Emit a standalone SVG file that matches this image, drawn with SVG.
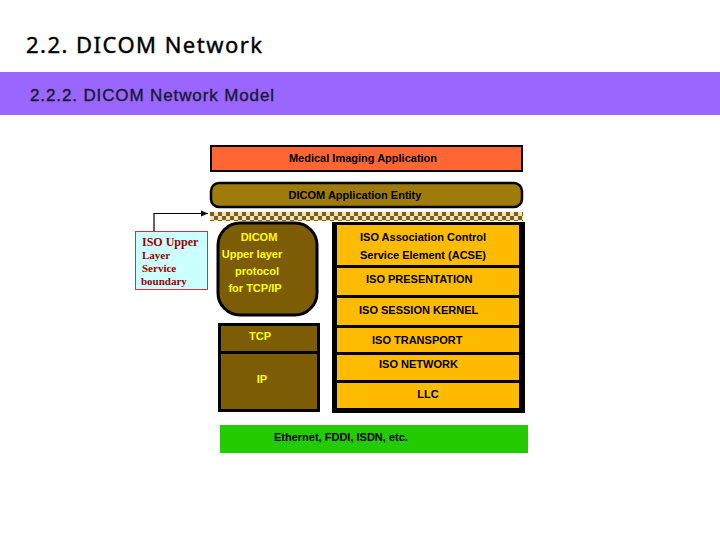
<svg xmlns="http://www.w3.org/2000/svg" width="720" height="540" viewBox="0 0 720 540">
<defs>
<pattern id="chk" x="210" y="212" width="8" height="8" patternUnits="userSpaceOnUse">
<rect width="8" height="8" fill="#ece2c4"/>
<rect width="4" height="4" fill="#806010"/>
<rect x="4" y="4" width="4" height="4" fill="#806010"/>
</pattern>
<marker id="arr" markerWidth="8" markerHeight="8" refX="7" refY="4" orient="auto" markerUnits="userSpaceOnUse">
<path d="M0,1 L7,4 L0,7 Z" fill="#000"/>
</marker>
<style>
.t{font-family:"Liberation Sans",Arial,sans-serif;font-weight:bold;font-size:11px;fill:#000}
.y{font-family:"Liberation Sans",Arial,sans-serif;font-weight:bold;font-size:11px;fill:#ffff00}
.r{font-family:"Liberation Serif","Times New Roman",serif;font-weight:bold;fill:#990000}
.lay{fill:#ffbb00}
</style>
</defs>
<rect width="720" height="540" fill="#fff"/>
<text x="26" y="53" font-family="'Noto Sans',sans-serif" font-size="22" fill="#000" stroke="#000" stroke-width="0.4" textLength="236" lengthAdjust="spacing">2.2. DICOM Network</text>
<rect x="0" y="72" width="720" height="43" fill="#9966ff"/>
<text x="30" y="101" font-family="'Liberation Sans',Arial,sans-serif" font-size="17" fill="#1a1a33" stroke="#1a1a33" stroke-width="0.4" textLength="244" lengthAdjust="spacing">2.2.2. DICOM Network Model</text>

<g id="medical">
<rect x="211" y="146" width="311" height="25" fill="#ff6633" stroke="#000" stroke-width="2"/>
<text class="t" x="363" y="162" text-anchor="middle">Medical Imaging Application</text>
</g>
<g id="ae">
<rect x="211" y="183" width="311" height="24" rx="8" fill="#9e7b0b" stroke="#000" stroke-width="2.5"/>
<text class="t" x="355" y="199" text-anchor="middle">DICOM Application Entity</text>
</g>
<g id="boundary-band">
<rect x="210" y="212" width="313" height="9" fill="url(#chk)"/>
</g>
<g id="iso-upper">
<rect x="135.5" y="231.5" width="72" height="58" fill="#ccffff" stroke="#cc3344" stroke-width="1"/>
<text class="r" x="142" y="246" font-size="12">ISO Upper</text>
<text class="r" x="142" y="259" font-size="11">Layer</text>
<text class="r" x="142" y="272" font-size="11">Service</text>
<text class="r" x="141" y="285" font-size="11">boundary</text>
</g>
<g id="dicom-ul">
<rect x="218" y="223" width="99" height="92" rx="22" fill="#7d5c06" stroke="#000" stroke-width="3"/>
<text class="y" x="259" y="241" text-anchor="middle">DICOM</text>
<text class="y" x="252" y="258" text-anchor="middle">Upper layer</text>
<text class="y" x="257" y="275" text-anchor="middle">protocol</text>
<text class="y" x="255" y="292" text-anchor="middle">for TCP/IP</text>
</g>
<g id="tcpip">
<rect x="219.5" y="324.5" width="99" height="86" fill="#7d5c06" stroke="#000" stroke-width="3"/>
<line x1="219" y1="352.5" x2="319" y2="352.5" stroke="#000" stroke-width="3"/>
<text class="y" x="260" y="340" text-anchor="middle">TCP</text>
<text class="y" x="262" y="383" text-anchor="middle">IP</text>
</g>
<g id="iso-stack">
<rect x="332" y="222" width="193" height="191" fill="#000"/>
<rect class="lay" x="337" y="225" width="182" height="40"/>
<rect class="lay" x="337" y="268" width="182" height="27"/>
<rect class="lay" x="337" y="298" width="182" height="27"/>
<rect class="lay" x="337" y="328" width="182" height="24"/>
<rect class="lay" x="337" y="355" width="182" height="25"/>
<rect class="lay" x="337" y="383" width="182" height="25"/>
<text class="t" x="360" y="241">ISO Association Control</text>
<text class="t" x="360" y="259">Service Element (ACSE)</text>
<text class="t" x="366" y="283">ISO PRESENTATION</text>
<text class="t" x="359" y="314">ISO SESSION KERNEL</text>
<text class="t" x="372" y="344">ISO TRANSPORT</text>
<text class="t" x="379" y="368">ISO NETWORK</text>
<text class="t" x="428" y="398" text-anchor="middle">LLC</text>
</g>
<g id="physical">
<rect x="220" y="425" width="308" height="28" fill="#22cc00"/>
<text class="t" x="274" y="441">Ethernet, FDDI, ISDN, etc.</text>
</g>
<g id="connectors">
<polyline points="154,231 154,213.5 208,213.5" fill="none" stroke="#000" stroke-width="1.2" marker-end="url(#arr)"/>
</g>
</svg>
